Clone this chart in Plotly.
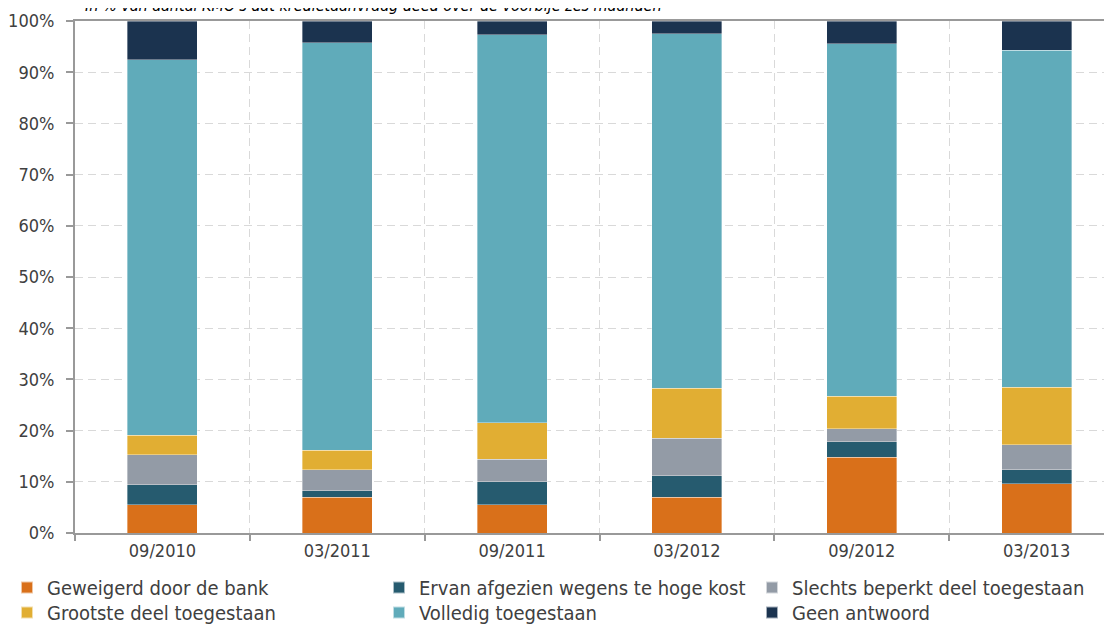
import plotly.graph_objects as go

categories = ["09/2010", "03/2011", "09/2011", "03/2012", "09/2012", "03/2013"]
geweigerd = [5.5, 7.0, 5.5, 7.0, 14.8, 9.6]
ervan_afgezien = [3.9, 1.3, 4.5, 4.2, 3.0, 2.8]
slechts_beperkt = [5.9, 4.1, 4.4, 7.3, 2.6, 4.8]
grootste_deel = [3.8, 3.8, 7.1, 9.8, 6.3, 11.3]
volledig = [73.3, 79.6, 75.8, 69.2, 68.9, 65.8]
geen_antwoord = [7.6, 4.2, 2.7, 2.5, 4.4, 5.7]

series = [
    ("Geweigerd door de bank", geweigerd, "#D9701A"),
    ("Ervan afgezien wegens te hoge kost", ervan_afgezien, "#265B6F"),
    ("Slechts beperkt deel toegestaan", slechts_beperkt, "#939BA6"),
    ("Grootste deel toegestaan", grootste_deel, "#E1AE33"),
    ("Volledig toegestaan", volledig, "#60ABBA"),
    ("Geen antwoord", geen_antwoord, "#1B334F"),
]

FONT = "DejaVu Sans Condensed"

# page body has an 8px margin: screen coords -> paper coords
PL, PT, PW, PH = 75, 21, 1049, 512
def px_x(p):
    return (p - PL) / PW
def px_y(p):
    return (PT + PH - p) / PH

legend_common = dict(
    orientation="v", xanchor="left", yanchor="top", yref="paper", xref="paper",
    font=dict(family=FONT, size=20, color="#404040"),
    bgcolor="rgba(0,0,0,0)", tracegroupgap=0, itemsizing="constant",
    traceorder="normal", itemwidth=30, visible=True,
)
col_x = [7, 379, 752]
row_top = [568, 593]

fig = go.Figure()
legend_layout = {}
for i, (name, vals, color) in enumerate(series):
    key = "legend" if i == 0 else f"legend{i + 1}"
    fig.add_trace(go.Bar(
        x=categories, y=vals, name=name, legend=key, showlegend=True,
        marker=dict(color=color, line=dict(color="rgba(255,255,255,0.6)", width=0.6)),
        width=0.40,
    ))
    legend_layout[key] = dict(x=px_x(col_x[i % 3]), y=px_y(row_top[i // 3]), **legend_common)

fig.update_layout(
    barmode="stack",
    showlegend=True,
    width=1120, height=626,
    margin=dict(l=PL - 8, r=1120 - (PL - 8) - PW, t=PT - 8, b=626 - (PT - 8) - PH, autoexpand=False),
    plot_bgcolor="white", paper_bgcolor="white",
    font=dict(family=FONT, size=17, color="#404040"),
    xaxis=dict(
        type="category", tickson="boundaries",
        showgrid=True, gridcolor="#D9D9D9", griddash="8px,5px", gridwidth=1,
        showline=True, linecolor="#999999", linewidth=2, mirror=True,
        ticks="outside", ticklen=6, tickcolor="#999999", tickwidth=2,
        tickfont=dict(family=FONT, size=18, color="#404040"),
    ),
    yaxis=dict(
        range=[0, 100], dtick=10, ticksuffix="%",
        showgrid=True, gridcolor="#D9D9D9", griddash="8px,5px", gridwidth=1,
        showline=True, linecolor="#999999", linewidth=2,
        ticks="outside", ticklen=7, tickcolor="#999999", tickwidth=2,
        ticklabelstandoff=8,
        tickfont=dict(family=FONT, size=18, color="#404040"),
        zeroline=False,
    ),
    annotations=[dict(
        text="<i>In % van aantal KMO's dat kredietaanvraag deed over de voorbije zes maanden</i>",
        xref="paper", yref="paper", x=px_x(83), y=px_y(5), xanchor="left", yanchor="middle",
        showarrow=False, font=dict(family=FONT, size=16, color="#000000"),
    )],
    **legend_layout,
)

fig.write_html("out.html")
